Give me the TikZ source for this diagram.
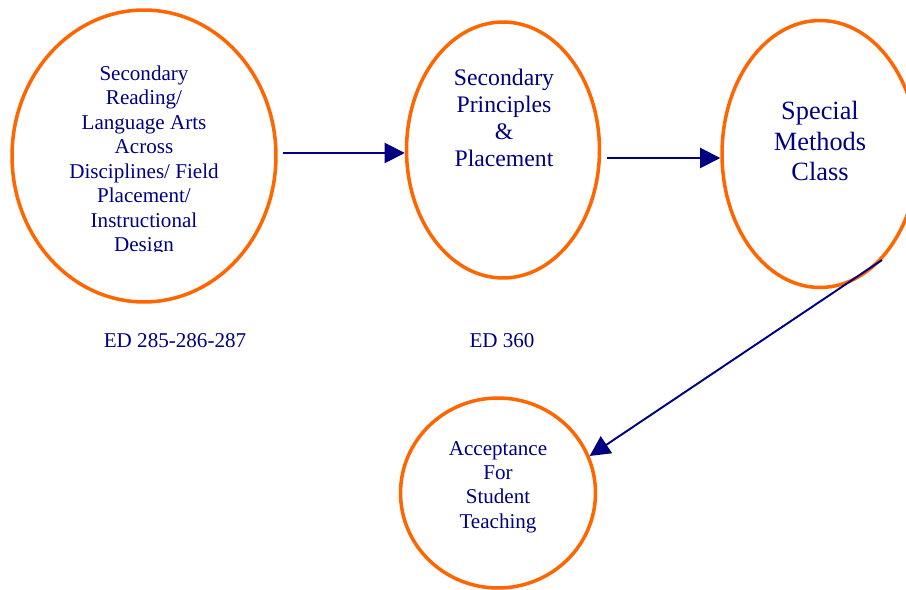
\documentclass[tikz,border=0pt]{standalone}
\usepackage{fontspec}
\setmainfont{Liberation Serif}
\usetikzlibrary{shapes.geometric,arrows.meta,calc}
\definecolor{rimorange}{RGB}{255,102,0}
\definecolor{inknavy}{RGB}{0,0,128}

\begin{document}
\begin{tikzpicture}[x=0.02cm,y=-0.02cm,
    course/.style={ellipse,draw=rimorange,line width=2pt,inner sep=0pt},
    words/.style={align=center,text=inknavy,font=\fontsize{12pt}{13.9pt}\selectfont},
    flow/.style={draw=inknavy,line width=1.1pt,-{Triangle[length=11.5pt,width=11.5pt]}}]
      \useasboundingbox (0,0) rectangle (906,590);

      \node [course,minimum width=5.28cm,minimum height=5.84cm] (read) at (144,156) {};
      \node [course,minimum width=3.86cm,minimum height=5.12cm] (prin) at (503,150) {};
      \node [course,minimum width=3.92cm,minimum height=5.34cm] (meth) at (820,154) {};
      \node [course,minimum width=3.90cm,minimum height=3.80cm] (acc) at (498,493) {};

      \begin{scope}
        \clip (0,0) rectangle (906,252);
        \node [words] (readtxt) at (144,161) {Secondary\\Reading/\\Language Arts\\Across\\Disciplines/ Field\\Placement/\\Instructional\\Design};
      \end{scope}
      \node [words,font=\fontsize{13.5pt}{15.4pt}\selectfont] (printxt) at (504,118) {Secondary\\Principles\\\&\\Placement};
      \node [words,font=\fontsize{15pt}{17.6pt}\selectfont] (methtxt) at (820,141) {Special\\Methods\\Class};
      \node [words] (acctxt) at (498,487) {Acceptance\\For\\Student\\Teaching};

      \node [words] (code1) at (175,341) {ED 285-286-287};
      \node [words] (code2) at (502,341) {ED 360};

      \coordinate (a1) at (283,153);
      \coordinate (a2) at (607,158);
      \coordinate (a3) at (882,260);

      \draw [flow] (a1) -- (a1 -| prin.west);
      \draw [flow] (a2) -- (a2 -| meth.west);
      \draw [flow] (a3) -- (acc.22);
  \end{tikzpicture}
\end{document}
